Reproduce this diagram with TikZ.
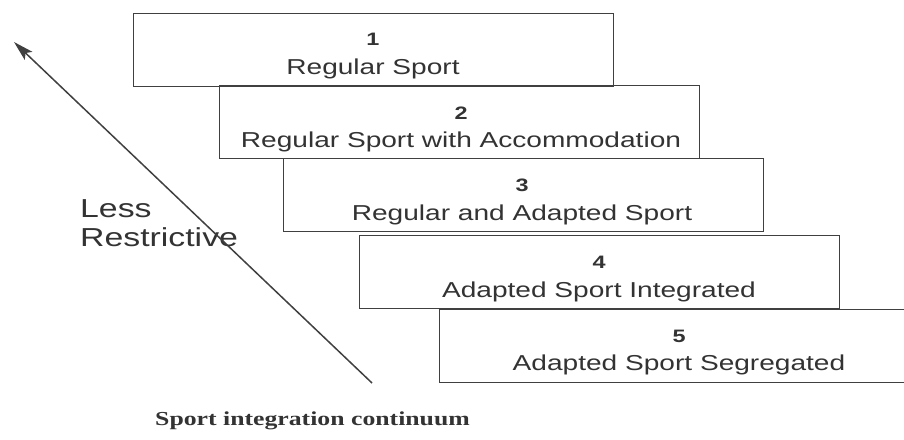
\documentclass[tikz,border=0pt]{standalone}
\usepackage{fontspec}
\setmainfont{Liberation Sans}[FakeStretch=1.3]
\newfontfamily\capfont{Liberation Serif}[FakeStretch=1.3]
\usetikzlibrary{arrows.meta}
\definecolor{ink}{HTML}{333333}
\definecolor{edge}{HTML}{404040}
\tikzset{
  stepbox/.style={draw=edge, line width=1.4pt, minimum width=480pt, minimum height=73pt, anchor=north west, inner sep=0pt},
  numtxt/.style={anchor=base, inner sep=0pt, text=ink, font=\fontsize{18}{18}\selectfont\bfseries},
  labtxt/.style={anchor=base, inner sep=0pt, text=ink, font=\fontsize{21.6}{21.6}\selectfont},
}
\begin{document}
\begin{tikzpicture}[x=1pt,y=-1pt]
\useasboundingbox (0,0) rectangle (904,439);
\clip (0,0) rectangle (904,439);
\node[stepbox] (b1) at (133,13) {};
\node[stepbox] (b2) at (219,85) {};
\node[stepbox] (b3) at (283,158) {};
\node[stepbox] (b4) at (359,235) {};
\node[stepbox] (b5) at (439,309) {};
\node[numtxt] (n1) at (373,45) {1};
\node[labtxt] (l1) at (373,74) {Regular Sport};
\node[numtxt] (n2) at (461,119) {2};
\node[labtxt] (l2) at (461,147) {Regular Sport with Accommodation};
\node[numtxt] (n3) at (522,191) {3};
\node[labtxt] (l3) at (522,220) {Regular and Adapted Sport};
\node[numtxt] (n4) at (599,268) {4};
\node[labtxt] (l4) at (599,297) {Adapted Sport Integrated};
\node[numtxt] (n5) at (679,342) {5};
\node[labtxt] (l5) at (679,370) {Adapted Sport Segregated};
\node[anchor=base west, inner sep=0pt, text=ink, font=\fontsize{26}{29}\selectfont, align=left] (less) at (80,246) {Less\\Restrictive};
\coordinate (tail) at (372,383);
\coordinate (tip) at (14,42);
\draw[edge, line width=1.5pt, -{Stealth[length=20pt,width=11pt,inset=4pt]}] (tail) -- (tip);
\node[anchor=base west, inner sep=0pt, text=ink, font=\capfont\fontsize{19.8}{19.8}\selectfont\bfseries] (cap) at (155,425) {Sport integration continuum};
\end{tikzpicture}
\end{document}
